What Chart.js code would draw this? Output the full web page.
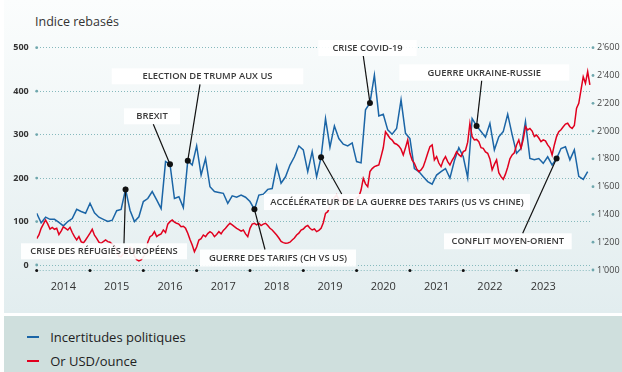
<!DOCTYPE html>
<html><head><meta charset="utf-8">
<script src="https://cdn.jsdelivr.net/npm/chart.js@4/dist/chart.umd.min.js"></script>
<style>
html,body{margin:0;padding:0;background:#fff;width:622px;height:372px;overflow:hidden;font-family:"Open Sans",sans-serif;}
#panel{position:absolute;left:4px;top:0;width:618px;height:313px;background:linear-gradient(#fbfdfd,#e2edef);}
#legend{position:absolute;left:4px;top:316px;width:618px;height:56px;background:#cfdfdd;}
#wrap{position:absolute;left:0;top:0;width:622px;height:313px;}
#title{position:absolute;left:35px;top:14px;font-size:12.5px;color:#333;line-height:16px;}
.item{position:absolute;left:22.7px;font-size:13px;color:#222;display:flex;align-items:center;height:18px;line-height:18px;}
.sw{display:inline-block;width:12px;height:2px;margin-right:11.5px;}
</style></head>
<body>
<div id="panel"></div>
<div id="legend">
  <div class="item" style="top:12.3px"><span class="sw" style="background:#1b65a6"></span>Incertitudes politiques</div>
  <div class="item" style="top:35.7px"><span class="sw" style="background:#e1001e"></span>Or USD/ounce</div>
</div>
<div id="title">Indice rebasés</div>
<div id="wrap"><canvas id="c" width="622" height="313"></canvas></div>
<script>
// ---- data ----
const years = [2014,2015,2016,2017,2018,2019,2020,2021,2022,2023];
const leftTicks = [0,100,200,300,400,500];
const rightTicks = [1000,1200,1400,1600,1800,2000,2200,2400,2600];
// monthly, from January 2014
const uncertainty = [
 119,97,110,105,105,98,90,100,107,128,123,119,
 142,120,110,105,100,103,125,128,174,126,100,111,
 146,153,169,150,130,238,232,153,157,132,240,230,
 274,207,245,180,169,167,165,142,159,156,161,156,
 146,128,161,163,174,176,228,188,203,230,249,274,
 265,215,261,203,248,337,271,320,291,278,274,281,
 238,235,357,373,437,343,347,311,301,314,380,303,
 291,222,215,203,192,186,207,215,222,200,240,270,
 249,201,337,320,307,294,326,265,295,307,347,300,
 257,268,330,245,242,245,234,249,230,245,268,272,
 242,265,204,197,215];
// twice a month, from January 2014
const gold = [
 1225,1252,1300,1330,1360,1330,1295,1307,1293,1300,1255,1280,1310,1300,1288,1307,1270,1240,1216,1240,1204,1195,1216,1240,
 1265,1293,1250,1228,1200,1192,1205,1216,1204,1200,1185,1175,1150,1100,1095,1120,1130,1145,1165,1150,1100,1075,1065,1072,
 1095,1120,1200,1240,1250,1276,1240,1252,1260,1288,1270,1330,1348,1360,1345,1336,1330,1312,1315,1300,1265,1220,1180,1132,
 1165,1216,1225,1252,1240,1262,1276,1265,1240,1255,1276,1260,1285,1300,1320,1336,1325,1312,1300,1290,1280,1288,1260,1240,
 1300,1330,1336,1325,1336,1320,1330,1336,1320,1300,1288,1270,1252,1230,1205,1197,1192,1195,1200,1216,1230,1252,1265,1288,
 1295,1312,1320,1300,1288,1295,1276,1285,1300,1340,1408,1420,1456,1500,1520,1540,1505,1495,1510,1490,1470,1460,1475,1480,
 1520,1528,1575,1660,1620,1600,1708,1730,1744,1750,1756,1816,1880,1995,1972,1948,1935,1912,1905,1892,1870,1828,1880,1936,
 1840,1790,1768,1730,1708,1720,1744,1790,1840,1888,1900,1792,1816,1770,1744,1790,1816,1780,1756,1790,1816,1852,1830,1816,
 1852,1860,1920,2056,1960,1936,1940,1924,1880,1876,1850,1840,1800,1720,1760,1792,1700,1672,1653,1690,1740,1800,1828,1844,
 1900,1936,1876,1940,2031,2008,2019,2000,1960,1972,1950,1924,1936,1930,1900,1880,1828,1900,1960,1995,2010,2031,2050,2056,
 2031,2019,2040,2164,2200,2296,2391,2344,2428,2332];
// events: month index in the uncertainty series
const eventNames = ["CRISE DES RÉFUGIÉS EUROPÉENS","BREXIT","ELECTION DE TRUMP AUX US","GUERRE DES TARIFS (CH VS US)","ACCÉLÉRATEUR DE LA GUERRE DES TARIFS (US VS CHINE)","CRISE COVID-19","GUERRE UKRAINE-RUSSIE","CONFLIT MOYEN-ORIENT"];
const eventMonths = [20,30,34,49,64,75,99,117];

// ---- layout for annotation boxes (pixels) ----
const noteLayout = [
 {bx:21,by:243.3,bw:166,bh:16,lx:124,ly:243.3},
 {bx:124,by:108.3,bw:56,bh:16,lx:153.3,ly:124.3},
 {bx:111.7,by:68.3,bw:191.6,bh:16,lx:200,ly:84.3},
 {bx:200,by:249.5,bw:156,bh:17,lx:265,ly:249.5},
 {bx:264,by:194,bw:266,bh:16,lx:341.7,ly:194},
 {bx:318.3,by:40,bw:98.4,bh:16,lx:363.3,ly:56},
 {bx:399.3,by:64.3,bw:170,bh:16.4,lx:481.7,ly:80.7},
 {bx:444,by:233.3,bw:127.7,bh:16,lx:522.7,ly:233.3}
];

const BLUE='#1b65a6', RED='#e1001e', GRID='#86b9bd';
const FONT='"Open Sans", sans-serif';

const deco = {
  id:'deco',
  afterDatasetsDraw(chart){
    const ctx = chart.ctx, ca = chart.chartArea;
    const xs = chart.scales.x, y1 = chart.scales.y, y2 = chart.scales.y2;
    ctx.save();
    // bottom axis dotted line
    ctx.strokeStyle = GRID; ctx.lineWidth = 1; ctx.setLineDash([1,2]);
    ctx.beginPath(); ctx.moveTo(ca.left, ca.bottom+0.5); ctx.lineTo(ca.right, ca.bottom+0.5); ctx.stroke();
    ctx.setLineDash([]);
    // tick dots
    ctx.fillStyle = '#6fa7ad';
    y1.ticks.forEach(t=>{ const y=y1.getPixelForValue(t.value); ctx.beginPath(); ctx.arc(ca.left, y, 1.4, 0, Math.PI*2); ctx.fill(); });
    y2.ticks.forEach(t=>{ const y=y2.getPixelForValue(t.value); ctx.beginPath(); ctx.arc(ca.right+2, y, 1.4, 0, Math.PI*2); ctx.fill(); });
    ctx.fillStyle = '#111';
    years.forEach((yr,i)=>{ const x = xs.getPixelForValue(i*12); ctx.beginPath(); ctx.arc(x, ca.bottom+0.5, 1.5, 0, Math.PI*2); ctx.fill(); });
    // annotations
    const meta = chart.getDatasetMeta(0);
    ctx.font = '600 9.4px ' + FONT;
    ctx.textAlign='center'; ctx.textBaseline='middle';
    eventNames.forEach((name,k)=>{
      const L = noteLayout[k];
      const p = meta.data[eventMonths[k]];
      ctx.fillStyle='rgba(255,255,255,0.92)';
      ctx.fillRect(L.bx, L.by, L.bw, L.bh);
      ctx.fillStyle='#3a3a3a';
      ctx.fillText(name, L.bx+L.bw/2, L.by+L.bh/2+0.5);
      ctx.strokeStyle='#111'; ctx.lineWidth=1.2;
      ctx.beginPath(); ctx.moveTo(L.lx, L.ly); ctx.lineTo(p.x, p.y); ctx.stroke();
      ctx.fillStyle='#111';
      ctx.beginPath(); ctx.arc(p.x, p.y, 3, 0, Math.PI*2); ctx.fill();
    });
    ctx.restore();
  }
};

const fmt = v => { const s=String(v); return s.length>3 ? s.slice(0,s.length-3)+"'"+s.slice(-3) : s; };

new Chart(document.getElementById('c'), {
  type:'line',
  data:{
    datasets:[
      {label:'Incertitudes politiques', data: uncertainty.map((v,i)=>({x:i,y:v})), yAxisID:'y', borderColor:BLUE, borderWidth:1.5, pointRadius:0, tension:0, order:1},
      {label:'Or USD/ounce', data: gold.map((v,i)=>({x:i/2,y:v})), yAxisID:'y2', borderColor:RED, borderWidth:1.5, pointRadius:0, tension:0, order:0}
    ]
  },
  options:{
    responsive:false, animation:false, devicePixelRatio:1,
    layout:{padding:{top:47.7,left:0,right:0,bottom:0}},
    plugins:{legend:{display:false}, tooltip:{enabled:false}, title:{display:false}},
    scales:{
      x:{type:'linear', min:0, max:124.75,
         afterBuildTicks: s=>{ s.ticks = years.map((y,i)=>({value:i*12+6})); },
         ticks:{callback:(v)=>String(years[Math.round((v-6)/12)]), font:{size:11, family:FONT}, color:'#333', padding:10, maxRotation:0, autoSkip:false},
         grid:{display:false, drawTicks:false}, border:{display:false},
         afterFit: s=>{ s.height = 43; }},
      y:{position:'left', min:-11.5, max:500,
         afterBuildTicks: s=>{ s.ticks = leftTicks.map(v=>({value:v})); },
         ticks:{font:{size:9, weight:'bold', family:FONT}, color:'#333', padding:8},
         grid:{color:GRID, lineWidth:1, drawTicks:false}, border:{display:false, dash:[1,2]},
         afterFit: s=>{ s.width = 36.7; }},
      y2:{position:'right', min:1000, max:2600,
         afterBuildTicks: s=>{ s.ticks = rightTicks.map(v=>({value:v})); },
         ticks:{font:{size:9, family:FONT}, color:'#444', padding:6, callback:v=>fmt(v)},
         grid:{drawOnChartArea:false, drawTicks:false}, border:{display:false},
         afterFit: s=>{ s.width = 31; }}
    }
  },
  plugins:[deco]
});
</script>
</body></html>
